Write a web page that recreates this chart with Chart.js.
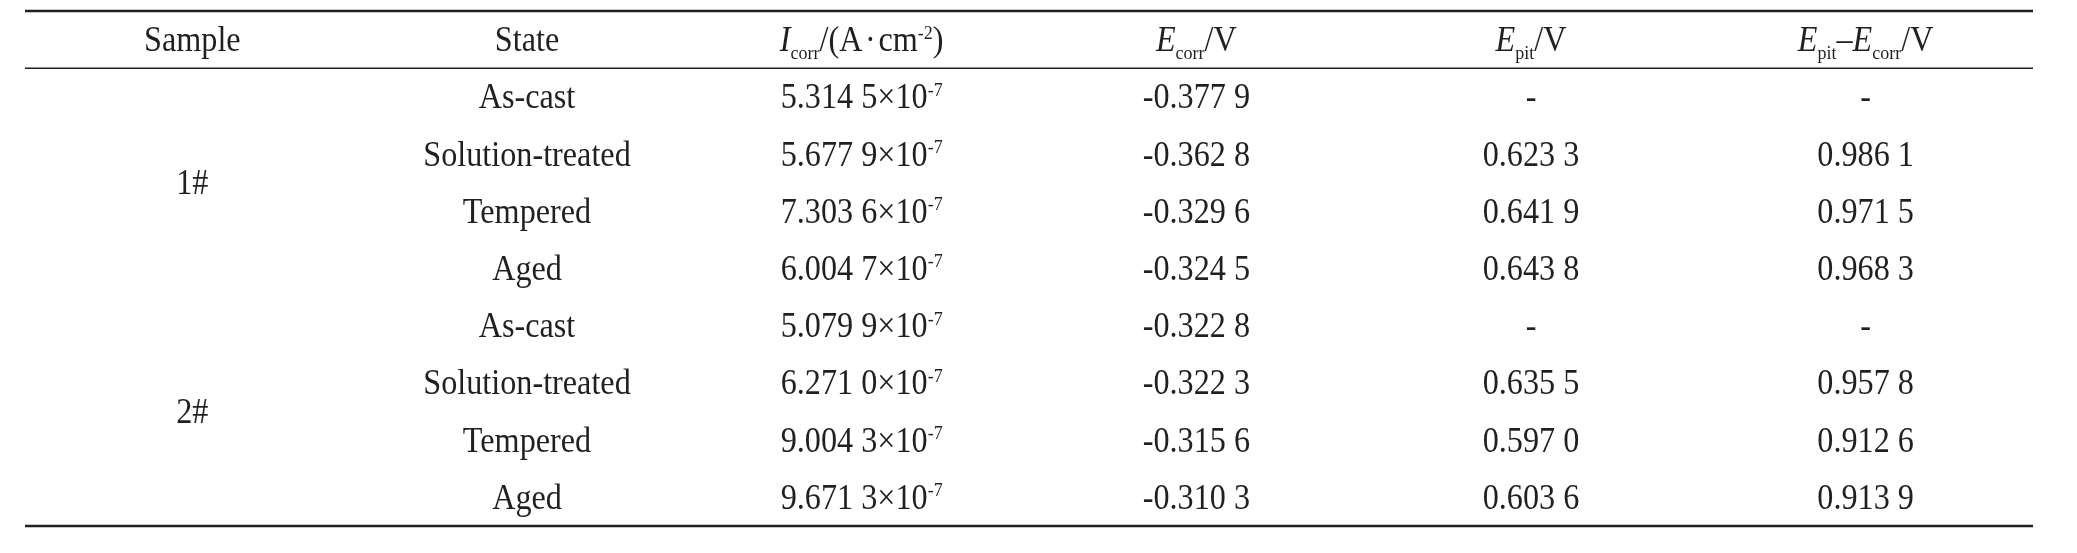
<!DOCTYPE html>
<html>
<head>
<meta charset="utf-8">
<script src="https://cdn.jsdelivr.net/npm/chart.js@4.4.1/dist/chart.umd.min.js"></script>
<style>
html,body{margin:0;padding:0;background:#ffffff;}
#wrap{width:2077px;height:553px;position:relative;}
</style>
</head>
<body>
<div id="wrap"><canvas id="c"></canvas></div>
<script>
// ---- data ----
const columnKeys = ['Sample', 'State', 'Icorr', 'Ecorr', 'Epit', 'EpitMinusEcorr'];
const rowKeys = ['header', 'r1', 'r2', 'r3', 'r4', 'r5', 'r6', 'r7', 'r8'];
const sampleOfRow = ['1#', '1#', '1#', '1#', '2#', '2#', '2#', '2#'];
const states = ['As-cast', 'Solution-treated', 'Tempered', 'Aged', 'As-cast', 'Solution-treated', 'Tempered', 'Aged'];
const icorrMantissa = [5.3145, 5.6779, 7.3036, 6.0047, 5.0799, 6.2710, 9.0043, 9.6713];
const icorrExponent = -7;
const ecorr = [-0.3779, -0.3628, -0.3296, -0.3245, -0.3228, -0.3223, -0.3156, -0.3103];
const epit = [null, 0.6233, 0.6419, 0.6438, null, 0.6355, 0.5970, 0.6036];
const epitMinusEcorr = [null, 0.9861, 0.9715, 0.9683, null, 0.9578, 0.9126, 0.9139];

// header rich text
const headers = [
  [{t: 'Sample'}],
  [{t: 'State'}],
  [{t: 'I', i: 1}, {t: 'corr', sub: 1}, {t: '/(A\u200A\u00B7\u200Acm'}, {t: '-2', sup: 1}, {t: ')'}],
  [{t: 'E', i: 1}, {t: 'corr', sub: 1}, {t: '/V'}],
  [{t: 'E', i: 1}, {t: 'pit', sub: 1}, {t: '/V'}],
  [{t: 'E', i: 1}, {t: 'pit', sub: 1}, {t: '\u2013'}, {t: 'E', i: 1}, {t: 'corr', sub: 1}, {t: '/V'}]
];

// ---- styling ----
const FAMILY = "'Liberation Serif','Times New Roman',Times,serif";
const BASE = 35;
const HSCALE = 0.92;
const INK = '#231f20';

function fmt4(v) {
  if (v === null || v === undefined) return '-';
  const s = v.toFixed(4);
  return s.slice(0, -1) + ' ' + s.slice(-1);
}

function drawRich(ctx, parts, cx, cy) {
  const segs = parts.map(p => {
    const size = (p.sub || p.sup) ? BASE * 0.56 : BASE;
    const font = (p.i ? 'italic ' : '') + size + 'px ' + FAMILY;
    ctx.font = font;
    return {t: p.t, font, w: ctx.measureText(p.t).width,
            dy: p.sub ? BASE * 0.22 : (p.sup ? -BASE * 0.36 : 0)};
  });
  const total = segs.reduce((a, s) => a + s.w, 0);
  ctx.save();
  ctx.translate(cx, 0);
  ctx.scale(HSCALE, 1);
  ctx.fillStyle = INK;
  ctx.textAlign = 'left';
  ctx.textBaseline = 'alphabetic';
  let x = -total / 2;
  const baseY = cy + BASE * 0.33;
  segs.forEach(s => { ctx.font = s.font; ctx.fillText(s.t, x, baseY + s.dy); x += s.w; });
  ctx.restore();
}

const tablePlugin = {
  id: 'tablePlugin',
  afterDraw(chart) {
    const ctx = chart.ctx;
    const xs = chart.scales.x, ys = chart.scales.y;
    const area = chart.chartArea;
    // rules
    const rule = (v, w) => {
      const y = ys.getPixelForValue(v);
      ctx.save();
      ctx.strokeStyle = INK;
      ctx.lineWidth = w;
      ctx.beginPath();
      ctx.moveTo(area.left, y);
      ctx.lineTo(area.right, y);
      ctx.stroke();
      ctx.restore();
    };
    rule(-0.5, 2.4);
    rule(0.5, 1.4);
    rule(rowKeys.length - 0.5, 2.6);

    // header
    headers.forEach((parts, c) => drawRich(ctx, parts, xs.getPixelForValue(c), ys.getPixelForValue(0)));

    // sample groups (merged cells)
    const groups = {};
    sampleOfRow.forEach((s, r) => { (groups[s] = groups[s] || []).push(r + 1); });
    Object.keys(groups).forEach(s => {
      const rows = groups[s];
      const yMid = (ys.getPixelForValue(rows[0]) + ys.getPixelForValue(rows[rows.length - 1])) / 2;
      drawRich(ctx, [{t: s}], xs.getPixelForValue(0), yMid);
    });

    // body cells
    for (let r = 0; r < states.length; r++) {
      const y = ys.getPixelForValue(r + 1);
      drawRich(ctx, [{t: states[r]}], xs.getPixelForValue(1), y);
      drawRich(ctx, [{t: fmt4(icorrMantissa[r]) + '\u00D710'}, {t: String(icorrExponent), sup: 1}], xs.getPixelForValue(2), y);
      drawRich(ctx, [{t: fmt4(ecorr[r])}], xs.getPixelForValue(3), y);
      drawRich(ctx, [{t: fmt4(epit[r])}], xs.getPixelForValue(4), y);
      drawRich(ctx, [{t: fmt4(epitMinusEcorr[r])}], xs.getPixelForValue(5), y);
    }
  }
};

new Chart(document.getElementById('c'), {
  type: 'scatter',
  data: {
    datasets: [{
      data: states.map((s, r) => ({x: 'State', y: rowKeys[r + 1]})),
      pointRadius: 0,
      pointHoverRadius: 0
    }]
  },
  options: {
    responsive: true,
    maintainAspectRatio: false,
    devicePixelRatio: 1,
    animation: false,
    events: [],
    layout: {padding: {left: 25, right: 44, top: 11, bottom: 27}},
    plugins: {legend: {display: false}, tooltip: {enabled: false}, title: {display: false}},
    scales: {
      x: {type: 'category', labels: columnKeys, offset: true, display: false},
      y: {type: 'category', labels: rowKeys, offset: true, display: false}
    }
  },
  plugins: [tablePlugin]
});
</script>
</body>
</html>
